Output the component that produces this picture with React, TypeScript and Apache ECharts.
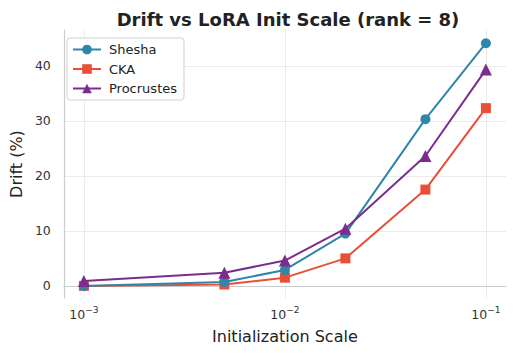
import React, { useEffect, useRef } from "react";
import * as echarts from "echarts";

const initScales = [0.001, 0.005, 0.01, 0.02, 0.05, 0.1];
const sheshaDrift = [0.0, 0.7, 2.9, 9.5, 30.3, 44.1];
const ckaDrift = [0.0, 0.25, 1.5, 5.0, 17.5, 32.3];
const procrustesDrift = [0.9, 2.4, 4.6, 10.4, 23.6, 39.3];
const yTicks = [0, 10, 20, 30, 40];

const FONT = "DejaVu Sans";

export default function App() {
  const ref = useRef<HTMLDivElement>(null);
  useEffect(() => {
    if (!ref.current) return;
    const chart = echarts.init(ref.current, null, { renderer: "svg" });
    const mk = (arr: number[]) => initScales.map((x, i) => [x, arr[i]]);
    chart.setOption({
      animation: false,
      backgroundColor: "#ffffff",
      textStyle: { fontFamily: FONT },
      title: {
        text: "Drift vs LoRA Init Scale (rank = 8)",
        left: 283,
        textAlign: "center",
        top: 5,
        textStyle: { fontFamily: FONT, fontSize: 18, fontWeight: "bold", color: "#222" },
      },
      legend: {
        orient: "vertical",
        left: 67,
        top: 38,
        padding: [5, 7, 5, 5],
        itemWidth: 28,
        itemHeight: 12,
        itemGap: 6.5,
        backgroundColor: "#ffffff",
        borderColor: "#d0d0d0",
        borderWidth: 1,
        borderRadius: 3,
        textStyle: { fontFamily: FONT, fontSize: 13, color: "#222", padding: [0, 0, 0, 3] },
        data: ["Shesha", "CKA", "Procrustes"],
      },
      grid: { left: 61, right: 10, top: 30, bottom: 59, containLabel: false },
      xAxis: {
        type: "log",
        logBase: 10,
        min: Math.pow(10, -3.1),
        max: Math.pow(10, -0.9),
        name: "Initialization Scale",
        nameLocation: "middle",
        nameGap: 30,
        nameTextStyle: { fontFamily: FONT, fontSize: 16, color: "#222" },
        axisLine: { show: true, lineStyle: { color: "#cccccc", width: 1.2 } },
        axisTick: { show: false },
        axisLabel: {
          fontFamily: FONT,
          color: "#333",
          margin: 7,
          showMinLabel: false,
          showMaxLabel: false,
          formatter: (v: number) => {
            const e = Math.log10(v);
            const r = Math.round(e);
            if (Math.abs(e - r) > 1e-6) return "";
            return "{b|10}{s|" + String(r).replace("-", "−") + "}";
          },
          rich: {
            b: { fontFamily: FONT, fontSize: 12.5, color: "#333", lineHeight: 16, verticalAlign: "bottom" },
            s: { fontFamily: FONT, fontSize: 9, color: "#333", lineHeight: 9, verticalAlign: "top" },
          },
        },
        splitLine: { show: true, showMinLine: false, showMaxLine: false, lineStyle: { color: "#ebebeb", width: 1 } },
      },
      yAxis: {
        type: "value",
        min: -2.2,
        max: 46.5,
        splitNumber: 5,
        name: "Drift (%)",
        nameLocation: "middle",
        nameGap: 35,
        nameTextStyle: { fontFamily: FONT, fontSize: 16, color: "#222" },
        axisLine: { show: true, lineStyle: { color: "#cccccc", width: 1.2 } },
        axisTick: { show: false },
        axisLabel: {
          fontFamily: FONT,
          fontSize: 12.5,
          color: "#333",
          margin: 13,
          showMinLabel: false,
          showMaxLabel: false,
          formatter: (v: number) => (yTicks.some((t) => Math.abs(t - v) < 1e-6) ? String(Math.round(v)) : ""),
        },
        splitLine: { show: true, showMinLine: false, showMaxLine: false, lineStyle: { color: "#ebebeb", width: 1 } },
      },
      series: [
        {
          name: "Shesha",
          type: "line",
          data: mk(sheshaDrift),
          symbol: "circle",
          symbolSize: 10,
          lineStyle: { width: 2, color: "#2e86ab" },
          itemStyle: { color: "#2e86ab" },
          z: 3,
        },
        {
          name: "CKA",
          type: "line",
          data: mk(ckaDrift),
          symbol: "rect",
          symbolSize: 10,
          lineStyle: { width: 2, color: "#e94f37" },
          itemStyle: { color: "#e94f37" },
          z: 2,
        },
        {
          name: "Procrustes",
          type: "line",
          data: mk(procrustesDrift),
          symbol: "triangle",
          symbolSize: 12,
          lineStyle: { width: 2, color: "#7b2d8e" },
          itemStyle: { color: "#7b2d8e" },
          z: 4,
        },
      ],
    });
    return () => chart.dispose();
  }, []);
  return <div ref={ref} style={{ width: 516, height: 357, position: "absolute", left: 0, top: 0 }} />;
}
